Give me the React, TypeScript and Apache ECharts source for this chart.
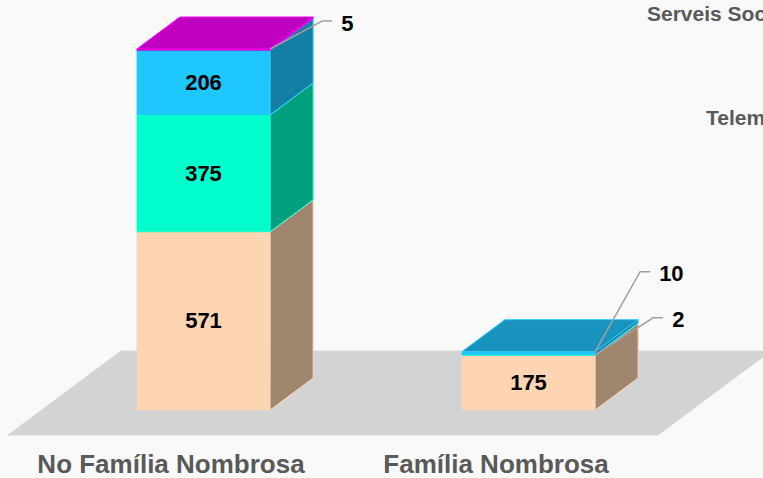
import React, { useEffect, useRef } from 'react';
import * as echarts from 'echarts';

// ---- Data ----
const categories = ['No Família Nombrosa', 'Família Nombrosa'];
const seriesNames = ['Presencial', 'Serveis Socials', 'Telemàtica', 'Altres'];
const valuesPresencial = [571, 175];
const valuesServeis = [375, 2];
const valuesTelematica = [206, 10];
const valuesAltres = [5, 0];
const legendLabels = ['Serveis Socials', 'Telemàtica'];

const seriesValues = [valuesPresencial, valuesServeis, valuesTelematica, valuesAltres];

// ---- Styles ----
const FONT = '"Liberation Sans", Arial, Helvetica, sans-serif';
const DX = 43;
const DY = 32;
const faceStyles = [
  { front: '#FDD5B3', side: '#A1866F', top: '#F3C9A5', edge: '#FDD5B3' },
  { front: '#00FFCC', side: '#00A07F', top: '#00D4AA', edge: '#2BFFD5' },
  { front: '#1EC8FF', side: '#147FA5', top: '#1793BE', edge: '#33CCFF' },
  { front: '#C000C0', side: '#8A008A', top: '#C000C0', edge: '#FF00FF' },
];
// leader-line elbow offsets for labels placed outside (seriesIndex-categoryIndex)
const outsideLabelOffsets: Record<string, [number, number]> = {
  '3-0': [52, -28],
  '2-1': [45, -80],
  '1-1': [58, -37],
};

function buildBarSeries(si: number) {
  const style = faceStyles[si];
  const data = categories.map((_, ci) => {
    let base = 0;
    for (let k = 0; k < si; k++) base += seriesValues[k][ci];
    return [ci, base, seriesValues[si][ci]];
  });
  return {
    type: 'custom',
    name: seriesNames[si],
    coordinateSystem: 'cartesian2d',
    silent: true,
    encode: { x: 0, y: 2 },
    data,
    renderItem: (params: any, api: any) => {
      const ci = api.value(0);
      const base = api.value(1);
      const val = api.value(2);
      if (!val || val <= 0) return null;
      const xc = api.coord([ci, 0])[0];
      const yb = api.coord([ci, base])[1];
      const yt = api.coord([ci, base + val])[1];
      const w = api.size([1, 0])[0] * 0.41;
      const xl = xc - w / 2;
      const xr = xc + w / 2;
      const children: any[] = [
        {
          type: 'rect',
          shape: { x: xl, y: yt, width: w, height: yb - yt },
          style: { fill: style.front, stroke: style.front, lineWidth: 0.5 },
        },
        {
          type: 'polygon',
          shape: { points: [[xr, yt], [xr + DX, yt - DY], [xr + DX, yb - DY], [xr, yb]] },
          style: { fill: style.side, stroke: style.edge, lineWidth: 1 },
        },
        {
          type: 'polygon',
          shape: { points: [[xl, yt], [xl + DX, yt - DY], [xr + DX, yt - DY], [xr, yt]] },
          style: { fill: style.top, stroke: style.edge, lineWidth: 1 },
        },
      ];
      const key = `${si}-${ci}`;
      const off = outsideLabelOffsets[key];
      if (off) {
        const ex = xr + off[0];
        const ey = yt + off[1];
        children.push({
          type: 'polyline',
          shape: { points: [[xr, yt], [ex, ey], [ex + 10, ey]] },
          style: { stroke: '#A0A0A0', lineWidth: 1.5, fill: null },
          z2: 20,
        });
        children.push({
          type: 'text',
          z2: 21,
          style: {
            text: String(val),
            x: ex + 19,
            y: ey + 2,
            align: 'left',
            verticalAlign: 'middle',
            fill: '#000',
            fontSize: 22,
            fontWeight: 'bold',
            fontFamily: FONT,
          },
        });
      } else {
        children.push({
          type: 'text',
          z2: 21,
          style: {
            text: String(val),
            x: xc,
            y: (yt + yb) / 2,
            align: 'center',
            verticalAlign: 'middle',
            fill: '#000',
            fontSize: 22,
            fontWeight: 'bold',
            fontFamily: FONT,
          },
        });
      }
      return { type: 'group', children };
    },
  };
}

export default function App() {
  const ref = useRef<HTMLDivElement>(null);
  useEffect(() => {
    if (!ref.current) return;
    const chart = echarts.init(ref.current, null, { renderer: 'svg' });
    const floorSeries = {
      type: 'custom',
      coordinateSystem: 'cartesian2d',
      silent: true,
      data: [[0, 0]],
      renderItem: (params: any) => {
        const cs = params.coordSys;
        const fy = cs.y + cs.height + 25;
        const fxl = cs.x - 33;
        const fxr = cs.x + cs.width - 33;
        return {
          type: 'polygon',
          shape: {
            points: [[fxl, fy], [fxl + 113, fy - 84], [fxr + 113, fy - 84], [fxr, fy]],
          },
          style: { fill: '#D3D3D3', stroke: '#D8D8D8', lineWidth: 1 },
        };
      },
    };
    chart.setOption({
      animation: false,
      backgroundColor: '#F9F9F9',
      grid: { left: 41, right: 72, top: 20, bottom: 68 },
      xAxis: {
        type: 'category',
        data: categories,
        axisLine: { show: false },
        axisTick: { show: false },
        splitLine: { show: false },
        axisLabel: {
          interval: 0,
          margin: 41,
          padding: [0, 65, 0, 0],
          fontSize: 26,
          fontWeight: 'bold',
          color: '#595959',
          fontFamily: FONT,
        },
      },
      yAxis: { type: 'value', min: 0, max: 1250, show: false, splitLine: { show: false } },
      graphic: [
        {
          type: 'text',
          x: 647,
          y: 13,
          style: {
            text: legendLabels[0],
            fill: '#595959',
            fontSize: 21,
            fontWeight: 'bold',
            fontFamily: FONT,
            verticalAlign: 'middle',
          },
        },
        {
          type: 'text',
          x: 706,
          y: 117,
          style: {
            text: legendLabels[1],
            fill: '#595959',
            fontSize: 21,
            fontWeight: 'bold',
            fontFamily: FONT,
            verticalAlign: 'middle',
          },
        },
      ],
      series: [floorSeries, ...seriesValues.map((_, i) => buildBarSeries(i))],
    });
    return () => chart.dispose();
  }, []);
  return (
    <div
      ref={ref}
      style={{ position: 'fixed', left: 0, top: 0, width: 763, height: 478 }}
    />
  );
}
